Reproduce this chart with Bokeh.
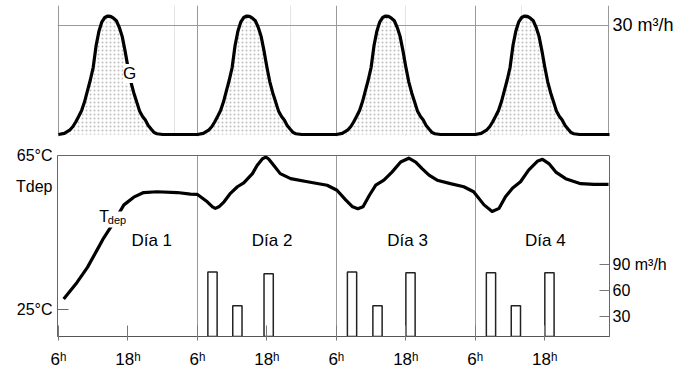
from bokeh.plotting import figure
from bokeh.models import Range1d, LinearAxis, FixedTicker, Grid, Label
from bokeh.layouts import column
from bokeh.embed import file_html
from bokeh.resources import INLINE
from bokeh.core.properties import value

FONT = "Liberation Sans"

# ---------------- data (hours counted from 6h of day 1) ----------------
# flow G (m3/h) over one day (same every day)
G_HOURS = [0, 1, 2, 2.5, 3, 3.5, 4, 4.5, 5, 5.5, 6, 6.5, 7, 7.5, 8, 8.5, 9, 9.5,
           10, 10.5, 11, 11.5, 12, 12.5, 13, 13.5, 14, 14.5, 15, 15.5, 16, 16.5,
           17, 18, 24]
G_DAY = [0, 0.3, 1.3, 2.2, 3.5, 5, 6.6, 9, 12, 15, 18.5, 24.5, 28.5, 31, 32.2,
         32.6, 32.5, 32, 31.3, 29.5, 27, 23, 18.5, 14.5, 11.5, 9, 6.5, 5, 4, 2.5,
         1.5, 0.6, 0.2, 0, 0]
N_DAYS = 4

# tank temperature Tdep (ºC)
T_HOURS = [0.9, 3.2, 5.0, 6.7, 7.8, 9.3, 11.3, 13.0, 14.7, 17.0, 20.5, 22.8,
           24.0, 25.7, 26.6, 27.1, 27.7, 28.6, 29.7, 30.9, 32.0, 33.5, 34.3,
           35.2, 35.8, 36.3, 37.2, 38.3, 40.1, 43.0, 46.4, 48.1, 49.6, 50.8,
           51.7, 52.6, 53.7, 54.8, 56.2, 57.6, 59.1, 60.5, 61.7, 62.8, 64.0,
           65.4, 67.7, 70.0, 71.7, 73.5, 74.9, 76.1, 77.2, 78.4, 79.8, 81.2,
           82.7, 83.6, 84.7, 85.9, 87.6, 90.2, 92.5, 95.0]
T_VALUES = [27.8, 32.1, 36.0, 40.6, 43.6, 47.1, 52.2, 54.2, 55.4, 55.6, 55.4,
            55.0, 54.9, 53.0, 51.7, 51.3, 51.7, 53.0, 55.2, 56.9, 57.9, 60.3,
            62.4, 64.1, 64.6, 64.1, 62.4, 60.3, 59.0, 58.2, 57.3, 56.0, 53.5,
            51.7, 51.2, 51.7, 54.7, 57.3, 58.6, 60.7, 63.3, 64.3, 63.3, 61.6,
            59.9, 58.6, 57.7, 56.9, 55.6, 52.2, 50.5, 51.3, 54.3, 56.5, 58.2,
            61.2, 63.5, 64.0, 62.9, 60.7, 59.0, 57.7, 57.5, 57.5]

# draw-off bars (m3/h)
BAR_HOURS = [26.6, 30.9, 36.3, 50.7, 55.1, 60.8, 74.7, 79.0, 84.8]
BAR_VALUES = [82, 43, 80, 82, 43, 81, 81, 43, 81]

X_TICKS = [0, 12, 24, 36, 48, 60, 72, 84]
X_LABELS = ["6ʰ", "18ʰ", "6ʰ", "18ʰ", "6ʰ", "18ʰ", "6ʰ", "18ʰ"]
DAY_STARTS = [0, 24, 48, 72]
END_HOUR = 95
T_TICKS = [25, 56.9, 65]
T_LABELS = ["25°C", "Tdep", "65°C"]
T_MARKED = [25]
Q_TICKS = [30, 60, 90]
Q_LABELS = ["30", "60", "90 m³/h"]
G_TICKS = [30]
G_LABELS = ["30 m³/h"]
DAY_NAMES = ["Día 1", "Día 2", "Día 3", "Día 4"]
DAY_NAME_HOURS = [16.1, 36.9, 60.3, 84.1]

# ---------------- layout ----------------
W = 683
LEFT = 57
FRAME_W = 552
RIGHT = W - LEFT - FRAME_W
x_range = Range1d(-0.17, 95.17)

# ---------------- upper panel ----------------
pA = figure(width=W, height=140, x_range=x_range, y_range=Range1d(-0.55, 35.5),
            output_backend="svg", toolbar_location=None,
            x_axis_location=None, y_axis_location="right",
            min_border_left=LEFT, min_border_right=RIGHT,
            min_border_top=5, min_border_bottom=4)
pA.outline_line_color = None
ax = pA.yaxis[0]
ax.ticker = FixedTicker(ticks=G_TICKS)
ax.major_label_overrides = dict(zip(G_TICKS, G_LABELS))
ax.axis_line_color = None
ax.major_tick_line_color = None
ax.minor_tick_line_color = None
ax.major_tick_out = 0
ax.major_label_standoff = 3
ax.major_label_text_font = FONT
ax.major_label_text_font_size = "18px"
ax.major_label_text_color = "black"
pA.ygrid.grid_line_color = "#999999"
pA.add_layout(Grid(dimension=0, ticker=FixedTicker(ticks=DAY_STARTS + [END_HOUR]),
                   grid_line_color="#999999"))

gx = [h + 24 * d for d in range(N_DAYS) for h in G_HOURS]
gy = G_DAY * N_DAYS
pA.varea(x=gx, y1=0, y2=gy, fill_color="white", hatch_pattern="dot",
         hatch_color="#bdbdbd", hatch_scale=4, hatch_weight=1)
pA.line(gx, gy, line_width=3.2, color="black", line_join="round")
pA.add_layout(Label(x=12.3, y=16.8, text="G", text_align="center",
                    text_baseline="middle", text_font=FONT, text_font_size="17px",
                    text_color="black", background_fill_color="white"))

# ---------------- lower panel ----------------
pB = figure(width=W, height=231, x_range=x_range, y_range=Range1d(18.08, 65),
            output_backend="svg", toolbar_location=None,
            min_border_left=LEFT, min_border_right=RIGHT,
            min_border_top=15, min_border_bottom=33)
pB.extra_y_ranges = {"q": Range1d(7.5, 216.3)}
pB.outline_line_color = "#666666"

xa = pB.xaxis[0]
xa.ticker = FixedTicker(ticks=X_TICKS)
xa.major_label_overrides = dict(zip(X_TICKS, X_LABELS))
xa.axis_line_color = "#555555"
xa.major_tick_line_color = "#777777"
xa.major_tick_in = 11
xa.major_tick_out = 4
xa.minor_tick_line_color = None
xa.major_label_standoff = 9
xa.major_label_text_font = FONT
xa.major_label_text_font_size = "17px"
xa.major_label_text_color = "black"

ya = pB.yaxis[0]
ya.ticker = FixedTicker(ticks=T_TICKS)
ya.major_label_overrides = dict(zip(T_TICKS, T_LABELS))
ya.axis_line_color = None
ya.major_tick_line_color = None
ya.major_tick_in = 0
ya.major_tick_out = 0
ya.minor_tick_line_color = None
ya.major_label_standoff = 5
ya.major_label_text_font = FONT
ya.major_label_text_font_size = "16px"
ya.major_label_text_color = "black"

qa = LinearAxis(y_range_name="q", ticker=FixedTicker(ticks=Q_TICKS),
                major_label_overrides=dict(zip(Q_TICKS, Q_LABELS)),
                axis_line_color=None, major_tick_line_color="#777777",
                major_tick_in=10, major_tick_out=0, minor_tick_line_color=None,
                major_label_standoff=3, major_label_text_font=FONT,
                major_label_text_font_size="16px", major_label_text_color="black")
pB.add_layout(qa, "right")

pB.xgrid.ticker = FixedTicker(ticks=DAY_STARTS[1:])
pB.xgrid.grid_line_color = "#999999"
# short tick mark for 25 ºC, drawn as a bounded grid line
pB.ygrid.ticker = FixedTicker(ticks=T_MARKED)
pB.ygrid.cross_bounds = (-0.17, 1.8)
pB.ygrid.grid_line_color = "#666666"
pB.ygrid.grid_line_width = 1.2

pB.vbar(x=BAR_HOURS, top=BAR_VALUES, bottom=0, width=1.6, fill_color="white",
        line_color="#222222", line_width=1.5, y_range_name="q")
pB.line(T_HOURS, T_VALUES, line_width=3.2, color="black", line_join="round")

pB.text(x=DAY_NAME_HOURS, y=[42.9] * 4, text=DAY_NAMES, text_align="center",
        text_baseline="middle", text_font=value(FONT), text_font_size="17px",
        text_color="black")

# Tdep label on the curve (T with subscript "dep")
pB.add_layout(Label(x=7.9, y=49.3, text="T", text_align="center",
                    text_baseline="middle", text_font=FONT, text_font_size="16px",
                    text_color="black", background_fill_color="white"))
pB.add_layout(Label(x=10.1, y=48.4, text="dep", text_align="center",
                    text_baseline="middle", text_font=FONT, text_font_size="11px",
                    text_color="black", background_fill_color="white", padding=2))

layout = column(pA, pB)
open("out.html", "w").write(file_html(layout, INLINE))
